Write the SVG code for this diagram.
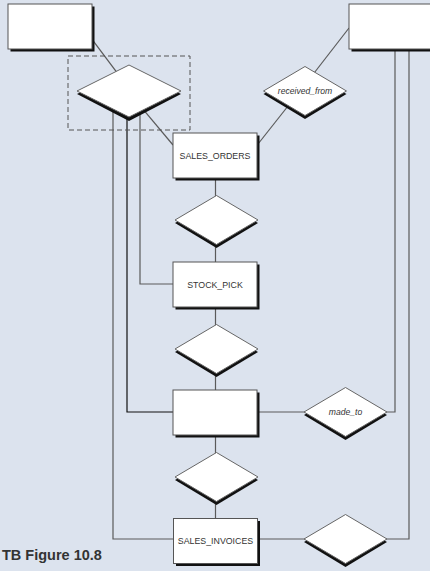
<svg xmlns="http://www.w3.org/2000/svg" width="430" height="571" viewBox="0 0 430 571">
<style>
.bg{fill:#dce3ee}
.ln{stroke:#5a5a5a;stroke-width:1.2;fill:none}
.dk{stroke:#111;stroke-width:1.2;fill:none}
.box{fill:#fff;stroke:#555;stroke-width:1}
.sh{fill:#111}
.dia{fill:#fff;stroke:#666;stroke-width:1}
.lbl{font-family:"Liberation Sans",Arial,sans-serif;font-size:8.8px;fill:#333;text-anchor:middle}
.it{font-family:"Liberation Sans",Arial,sans-serif;font-size:8.6px;font-style:italic;fill:#333;text-anchor:middle}
.cap{font-family:"Liberation Sans",Arial,sans-serif;font-size:14.5px;font-weight:bold;fill:#333}
</style>
<defs>
<g id="dm"><polygon class="sh" points="-41.5,3 0,-21 41.5,3 0,28"/><polygon class="dia" points="-41.5,0 0,-24.5 41.5,0 0,24.5"/></g>
<g id="bx"><rect class="sh" x="2.5" y="2.5" width="84" height="45"/><rect class="box" x="0" y="0" width="84" height="45"/></g>
</defs>
<rect class="bg" x="0" y="0" width="430" height="571"/>
<g id="connectors">
<line class="ln" x1="81" y1="24.7" x2="120" y2="76.7"/>
<line class="ln" x1="140" y1="105.7" x2="173" y2="145"/>
<line class="ln" x1="349" y1="28" x2="311" y2="77"/>
<line class="ln" x1="292" y1="101" x2="258" y2="144"/>
<line class="ln" x1="215.5" y1="170" x2="215.5" y2="530"/>
<polyline class="ln" points="113,105 113,539 175,539"/>
<polyline class="dk" points="127,105 127,412 175,412"/>
<polyline class="ln" points="140,105 140,284 175,284"/>
<polyline class="ln" points="395,40 395,412 380,412"/>
<polyline class="ln" points="409,40 409,539 380,539"/>
<line class="ln" x1="250" y1="412" x2="310" y2="412"/>
<line class="ln" x1="250" y1="539" x2="310" y2="539"/>
</g>
<rect x="68" y="56" width="122" height="74" fill="none" stroke="#555" stroke-width="1" stroke-dasharray="5,3"/>
<g id="entity-top-left"><use href="#bx" x="8" y="4" transform="translate(0,0)"/></g>
<g id="entity-top-right"><use href="#bx" x="349" y="4"/></g>
<g id="rel-top"><polygon class="sh" points="77,94 129,68 181,94 129,121"/><polygon class="dia" points="77,91 129,65 181,91 129,117"/></g>
<g id="rel-received-from"><use href="#dm" x="305" y="91"/><text class="it" x="305" y="94">received_from</text></g>
<g id="sales-orders"><use href="#bx" x="173" y="133"/><text class="lbl" x="215" y="159">SALES_ORDERS</text></g>
<g id="rel-2"><use href="#dm" x="216.5" y="220"/></g>
<g id="stock-pick"><use href="#bx" x="173" y="262"/><text class="lbl" x="215" y="287.5">STOCK_PICK</text></g>
<g id="rel-3"><use href="#dm" x="216.5" y="349"/></g>
<g id="entity-middle"><use href="#bx" x="173" y="390"/></g>
<g id="rel-made-to"><use href="#dm" x="345.5" y="412"/><text class="it" x="345.5" y="415">made_to</text></g>
<g id="rel-4"><use href="#dm" x="216.5" y="477"/></g>
<g id="sales-invoices"><use href="#bx" x="173.5" y="518.5"/><text class="lbl" x="215.5" y="544">SALES_INVOICES</text></g>
<g id="rel-bottom"><use href="#dm" x="345.5" y="539"/></g>
<text class="cap" x="2" y="560">TB Figure 10.8</text>
</svg>
